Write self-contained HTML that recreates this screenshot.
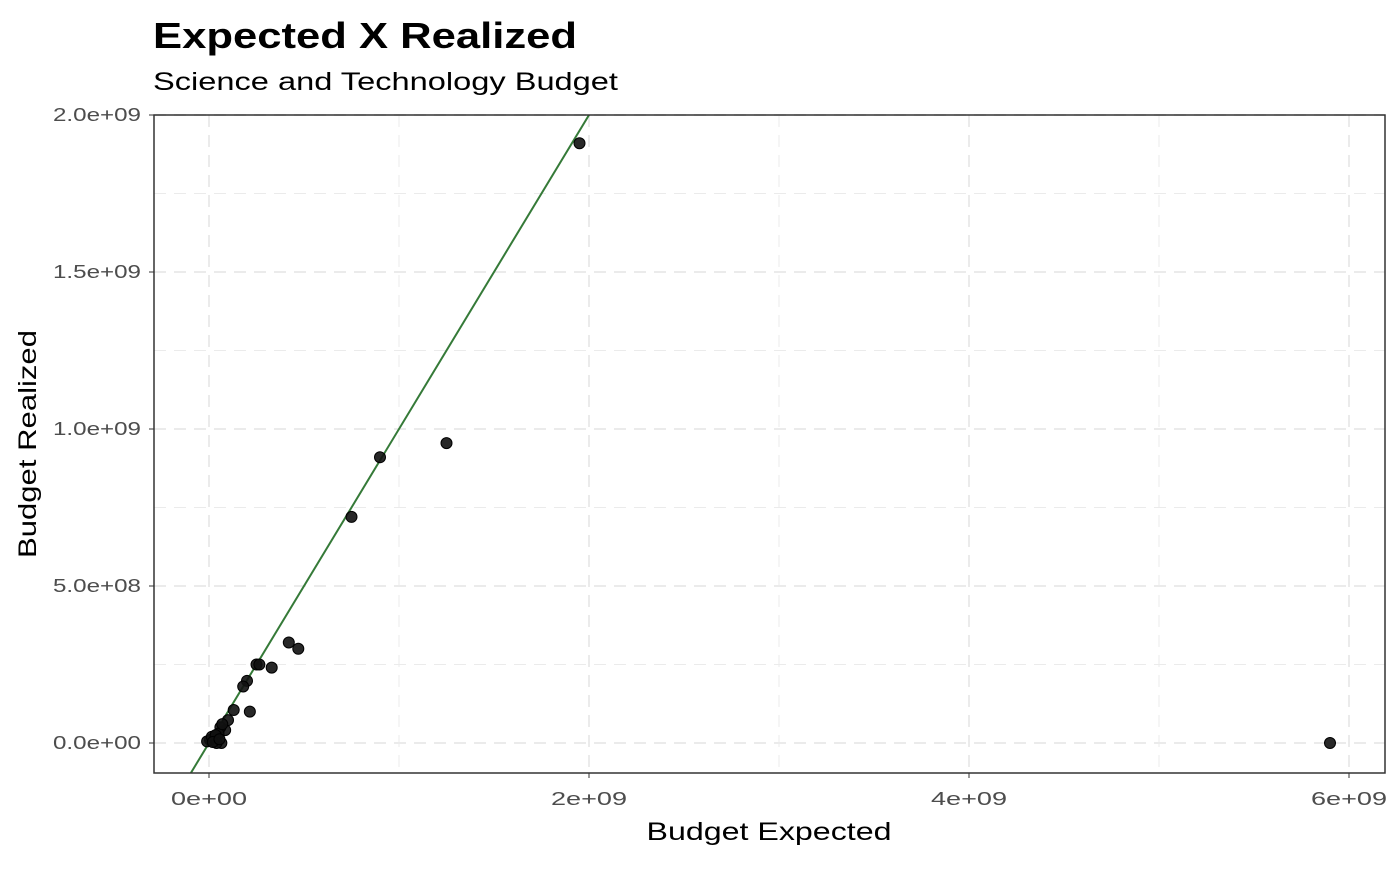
<!DOCTYPE html>
<html><head><meta charset="utf-8"><style>
body{margin:0;background:#fff;font-family:"Liberation Sans",sans-serif}
</style></head><body>
<svg id="c" width="1400" height="865"></svg>
<script>
const xs=[1.95,1.25,0.9,0.75,5.9,0.42,0.47,0.25,0.265,0.33,0.2,0.18,0.13,0.215,0.1,0.085,0.06,0.005,0.03,0.065,-0.01,0.015,0.05,0.035,0.04,0.07,0.02,0.055];
const ys=[1.91,0.955,0.91,0.72,0.0,0.32,0.30,0.25,0.25,0.24,0.198,0.18,0.105,0.1,0.073,0.041,0.05,0.01,0.016,0.0,0.005,0.02,0.03,0.025,0.0,0.06,0.003,0.012];
const xticks=[0,2,4,6],xlabels=["0e+00","2e+09","4e+09","6e+09"];
const yticks=[0,0.5,1,1.5,2],ylabels=["0.0e+00","5.0e+08","1.0e+09","1.5e+09","2.0e+09"];
const fitSlope=1.0,fitIntercept=0;
const L=154,R=1385,T=115,B=773;
const X=v=>209+v*190, Y=v=>743-v*314;
const s=document.getElementById('c');const NS='http://www.w3.org/2000/svg';
function mk(t,a,p){const e=document.createElementNS(NS,t);for(const k in a)e.setAttribute(k,a[k]);(p||s).appendChild(e);return e;}
for(let v=-0.5;v<=2;v+=0.25){const y=Y(v);if(y<T||y>B)continue;const major=Math.abs(v*2-Math.round(v*2))<1e-9;
const g=mk('line',{x1:L,x2:R,y1:y,y2:y,stroke:'#ebebeb','stroke-width':major?2:1,'stroke-dasharray':'12,8'});
}
for(let v=-1;v<=7;v++){const x=X(v);if(x<L||x>R)continue;
const g=mk('line',{y1:T,y2:B,x1:x,x2:x,stroke:'#ebebeb','stroke-width':v%2==0?2:1,'stroke-dasharray':'12,8'});
}
const clip=mk('clipPath',{id:'cp'});mk('rect',{x:L,y:T,width:R-L,height:B-T},clip);
const fl=mk('line',{x1:X(-0.5),y1:Y(fitIntercept+fitSlope*-0.5),x2:X(2.5),y2:Y(fitIntercept+fitSlope*2.5),stroke:'#357a38','stroke-width':2,'clip-path':'url(#cp)'});

xs.forEach((v,i)=>{const c=mk('circle',{cx:X(v),cy:Y(ys[i]),r:5.5,fill:'#111','fill-opacity':0.9,stroke:'#000','stroke-width':1});
});
const fr=mk('rect',{x:L,y:T,width:R-L,height:B-T,fill:'none',stroke:'#333','stroke-width':1.5});

xticks.forEach((v,i)=>{mk('line',{x1:X(v),x2:X(v),y1:B,y2:B+5,stroke:'#333'});
const t=mk('text',{x:X(v),y:B+32,'text-anchor':'middle','font-size':18,fill:'#4d4d4d',textLength:76,lengthAdjust:'spacingAndGlyphs'});t.textContent=xlabels[i];
});
yticks.forEach((v,i)=>{mk('line',{x1:L-5,x2:L,y1:Y(v),y2:Y(v),stroke:'#333'});
const t=mk('text',{x:L-13,y:Y(v)+6,'text-anchor':'end','font-size':18,fill:'#4d4d4d',textLength:88,lengthAdjust:'spacingAndGlyphs'});t.textContent=ylabels[i];
});
function txt(str,a,name){const t=mk('text',Object.assign({lengthAdjust:'spacingAndGlyphs'},a));t.textContent=str;}
txt('Expected X Realized',{x:153,y:48,'font-size':36,'font-weight':'bold',fill:'#000',textLength:424},'chart-title');
txt('Science and Technology Budget',{x:153,y:90,'font-size':25,fill:'#000',textLength:465},'chart-subtitle');
txt('Budget Expected',{x:769,y:840,'text-anchor':'middle','font-size':25,fill:'#000',textLength:245},'x-axis-title');
txt('Budget Realized',{x:0,y:0,'text-anchor':'middle','font-size':25,fill:'#000',textLength:228,transform:'translate(36,444) rotate(-90)'},'y-axis-title');
</script></body></html>
